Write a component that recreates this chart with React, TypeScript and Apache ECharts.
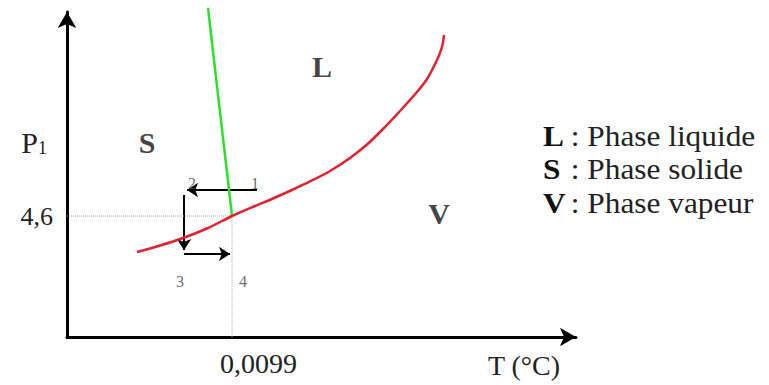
import React, { useEffect, useRef } from "react";
import * as echarts from "echarts";

// Chart units: abstract T and P scales (0..100)
const tripleT = 32.42;
const tripleP = 37.23;
const xTickLabel = "0,0099";
const yTickLabel = "4,6";

// Sublimation / vaporisation curve (red)
const redT = [13.75, 18.27, 22.79, 27.7, 32.42, 36.94, 40.47, 44.2, 47.74, 51.67, 55.6, 58.94, 62.08, 65.42, 68.76, 70.73, 72.69, 73.67, 74.07];
const redP = [26.15, 28.15, 30.46, 33.54, 37.23, 40.31, 42.62, 45.23, 47.85, 51.08, 55.08, 59.23, 64.0, 69.54, 75.38, 79.38, 85.23, 89.23, 92.92];

// Fusion curve (green)
const greenT = [27.7, 32.42];
const greenP = [101.23, 37.23];

// Path arrows 1->2, 2->3, 3->4
const arrowFrom = [[37.33, 45.23], [22.99, 43.69], [22.99, 25.54]];
const arrowTo = [[23.58, 45.23], [22.99, 26.77], [32.02, 25.54]];

// Point labels
const pointNames = ["1", "2", "3", "4"];
const pointT = [36.94, 24.56, 22.2, 34.58];
const pointP = [47.08, 47.08, 17.23, 17.23];

// Region labels
const regionNames = ["S", "L", "V"];
const regionT = [15.72, 50.1, 73.08];
const regionP = [60.0, 83.38, 37.85];

// Legend lines
const legendKeys = ["L", "S", "V"];
const legendTexts = [" : Phase liquide", " : Phase solide", " : Phase vapeur"];

const FONT = "Liberation Serif";

export default function App() {
  const ref = useRef<HTMLDivElement>(null);
  useEffect(() => {
    if (!ref.current) return;
    const chart = echarts.init(ref.current, undefined, { renderer: "svg" });
    const legendGraphics: any[] = [];
    legendKeys.forEach((k, i) => {
      legendGraphics.push({
        type: "text",
        x: 543,
        y: 136 + i * 33.5,
        scaleX: 1.08,
        style: {
          text: k,
          fontFamily: FONT,
          fontSize: 29,
          fontWeight: "bold",
          verticalAlign: "middle",
          fill: "#111",
        },
      });
      legendGraphics.push({
        type: "text",
        x: 563,
        y: 136 + i * 33.5,
        scaleX: 1.08,
        style: {
          text: legendTexts[i],
          fontFamily: FONT,
          fontSize: 29,
          fontWeight: "normal",
          verticalAlign: "middle",
          fill: "#222",
        },
      });
    });
    const option: any = {
      animation: false,
      backgroundColor: "#fff",
      grid: { left: 67, top: 12, right: 193, bottom: 48 },
      xAxis: {
        type: "value",
        min: 0,
        max: 100,
        name: "T (°C)",
        nameLocation: "end",
        nameGap: -16,
        nameTextStyle: {
          fontFamily: FONT,
          fontSize: 28,
          color: "#222",
          align: "right",
          verticalAlign: "top",
          padding: [14, 0, 0, 0],
        },
        axisLine: {
          show: true,
          symbol: ["none", "arrow"],
          symbolSize: [14, 16],
          lineStyle: { color: "#000", width: 3 },
        },
        axisTick: { show: false },
        splitLine: { show: false },
        axisLabel: {
          customValues: [tripleT],
          formatter: () => xTickLabel,
          fontFamily: FONT,
          fontSize: 28,
          color: "#222",
          align: "left",
          margin: 12,
          padding: [0, 0, 0, -12],
        },
      },
      yAxis: {
        type: "value",
        min: 0,
        max: 100,
        name: "{p|P}{s|1}",
        nameLocation: "end",
        nameGap: -130,
        nameTextStyle: {
          align: "right",
          verticalAlign: "middle",
          padding: [0, 20, 0, 0],
          rich: {
            p: { fontFamily: FONT, fontSize: 30, color: "#222", lineHeight: 30, verticalAlign: "middle" },
            s: { fontFamily: FONT, fontSize: 18, color: "#222", verticalAlign: "bottom", lineHeight: 18, padding: [14, 0, 0, 0] },
          },
        },
        axisLine: {
          show: true,
          symbol: ["none", "arrow"],
          symbolSize: [14, 16],
          lineStyle: { color: "#000", width: 3 },
        },
        axisTick: { show: false },
        splitLine: { show: false },
        axisLabel: {
          customValues: [tripleP],
          formatter: () => yTickLabel,
          fontFamily: FONT,
          fontSize: 26,
          color: "#222",
          margin: 14,
        },
      },
      series: [
        {
          type: "line",
          data: [[0, tripleP], [tripleT, tripleP]],
          symbol: "none",
          lineStyle: { color: "#aaa", width: 1, type: "dotted" },
          silent: true,
        },
        {
          type: "line",
          data: [[tripleT, 0], [tripleT, tripleP]],
          symbol: "none",
          lineStyle: { color: "#aaa", width: 1, type: "dotted" },
          silent: true,
        },
        {
          type: "line",
          data: greenT.map((t, i) => [t, greenP[i]]),
          symbol: "none",
          clip: false,
          lineStyle: { color: "#2ee02e", width: 2.5 },
        },
        {
          type: "line",
          data: redT.map((t, i) => [t, redP[i]]),
          symbol: "none",
          smooth: 0.3,
          lineStyle: { color: "#e3202e", width: 2.5 },
        },
        {
          type: "lines",
          coordinateSystem: "cartesian2d",
          symbol: ["none", "arrow"],
          symbolSize: 11,
          lineStyle: { color: "#000", width: 2, opacity: 1, curveness: 0 },
          data: arrowFrom.map((f, i) => ({ coords: [f, arrowTo[i]] })),
        },
        {
          type: "scatter",
          symbolSize: 0,
          data: pointNames.map((n, i) => ({ name: n, value: [pointT[i], pointP[i]] })),
          label: {
            show: true,
            position: "inside",
            formatter: (p: any) => p.name,
            fontFamily: FONT,
            fontSize: 16,
            color: "#444",
          },
        },
        {
          type: "scatter",
          symbolSize: 0,
          data: regionNames.map((n, i) => ({ name: n, value: [regionT[i], regionP[i]] })),
          label: {
            show: true,
            position: "inside",
            formatter: (p: any) => p.name,
            fontFamily: FONT,
            fontSize: 30,
            fontWeight: "bold",
            color: "#111",
          },
        },
      ],
      graphic: legendGraphics,
    };
    chart.setOption(option);
    return () => chart.dispose();
  }, []);
  return (
    <div
      ref={ref}
      style={{ position: "absolute", left: 0, top: 0, width: 769, height: 385 }}
    />
  );
}
